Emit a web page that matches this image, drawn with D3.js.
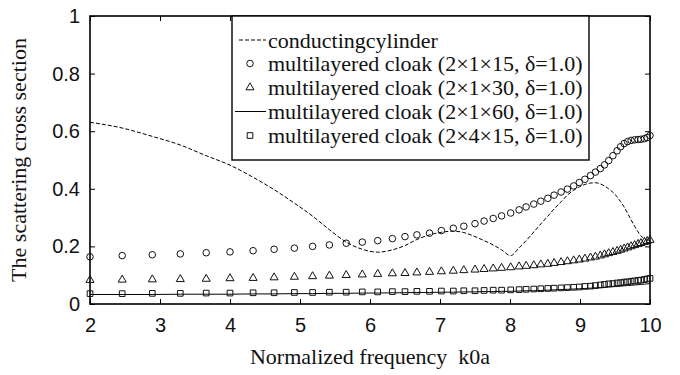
<!DOCTYPE html>
<html>
<head>
<meta charset="utf-8">
<script src="https://cdn.jsdelivr.net/npm/d3@7"></script>
<style>
  body { margin: 0; background: #fff; }
  svg { display: block; }
</style>
</head>
<body>
<svg id="chart" width="680" height="375"></svg>
<script>
// sample points (normalized frequency k0a), shared by all curves
var k0a = [2.00, 2.46, 2.89, 3.29, 3.66, 4.00, 4.33, 4.63, 4.92, 5.18, 5.42, 5.66, 5.89, 6.11, 6.32, 6.50, 6.67, 6.85,
           7.02, 7.19, 7.34, 7.50, 7.63, 7.76, 7.88, 8.01, 8.13, 8.23, 8.34, 8.44, 8.54, 8.63, 8.73, 8.82, 8.91, 8.99,
           9.07, 9.15, 9.22, 9.29, 9.35, 9.41, 9.47, 9.53, 9.58, 9.63, 9.68, 9.73, 9.78, 9.83, 9.87, 9.92, 9.96, 10.00];

var cylinder = [0.631, 0.611, 0.582, 0.552, 0.515, 0.482, 0.440, 0.397, 0.350, 0.305, 0.258, 0.215, 0.190, 0.180, 0.188, 0.203, 0.224, 0.240,
                0.249, 0.253, 0.248, 0.234, 0.220, 0.205, 0.188, 0.168, 0.195, 0.220, 0.250, 0.278, 0.305, 0.330, 0.355, 0.378, 0.395, 0.407,
                0.415, 0.420, 0.421, 0.417, 0.410, 0.400, 0.388, 0.372, 0.355, 0.337, 0.315, 0.292, 0.270, 0.250, 0.237, 0.226, 0.222, 0.220];

var cloak15 = [0.164, 0.168, 0.171, 0.174, 0.178, 0.181, 0.185, 0.190, 0.194, 0.200, 0.205, 0.211, 0.215, 0.220, 0.227, 0.234, 0.240, 0.246,
               0.255, 0.263, 0.270, 0.279, 0.288, 0.297, 0.306, 0.316, 0.327, 0.337, 0.347, 0.357, 0.367, 0.378, 0.389, 0.399, 0.410, 0.422,
               0.433, 0.446, 0.458, 0.470, 0.483, 0.498, 0.515, 0.532, 0.546, 0.557, 0.564, 0.568, 0.570, 0.571, 0.572, 0.574, 0.578, 0.585];

var cloak30 = [0.083, 0.084, 0.085, 0.086, 0.087, 0.089, 0.090, 0.092, 0.094, 0.096, 0.098, 0.100, 0.102, 0.104, 0.106, 0.107, 0.109, 0.111,
               0.113, 0.115, 0.117, 0.119, 0.121, 0.123, 0.125, 0.127, 0.130, 0.132, 0.134, 0.137, 0.139, 0.142, 0.145, 0.148, 0.151, 0.154,
               0.157, 0.161, 0.164, 0.168, 0.172, 0.176, 0.180, 0.184, 0.188, 0.192, 0.196, 0.200, 0.204, 0.208, 0.211, 0.215, 0.218, 0.222];

var cloak60 = [0.033, 0.033, 0.033, 0.034, 0.034, 0.034, 0.035, 0.035, 0.036, 0.036, 0.037, 0.037, 0.038, 0.038, 0.039, 0.039, 0.040, 0.040,
               0.041, 0.041, 0.042, 0.042, 0.043, 0.043, 0.044, 0.044, 0.045, 0.046, 0.046, 0.047, 0.048, 0.049, 0.050, 0.051, 0.052, 0.053,
               0.054, 0.055, 0.056, 0.057, 0.058, 0.059, 0.060, 0.061, 0.062, 0.063, 0.064, 0.065, 0.066, 0.067, 0.068, 0.069, 0.070, 0.071];

var cloak4x15 = [0.036, 0.036, 0.037, 0.037, 0.038, 0.038, 0.039, 0.039, 0.040, 0.040, 0.041, 0.041, 0.042, 0.042, 0.043, 0.043, 0.044, 0.044,
                 0.045, 0.045, 0.046, 0.046, 0.047, 0.048, 0.048, 0.049, 0.050, 0.051, 0.052, 0.053, 0.054, 0.055, 0.056, 0.057, 0.058, 0.059,
                 0.061, 0.062, 0.064, 0.066, 0.068, 0.070, 0.071, 0.073, 0.074, 0.076, 0.077, 0.079, 0.080, 0.082, 0.083, 0.085, 0.087, 0.089];

var xTicks = [2, 3, 4, 5, 6, 7, 8, 9, 10];
var yTicks = [0, 0.2, 0.4, 0.6, 0.8, 1];

var legendLabels = ["conductingcylinder",
                    "multilayered cloak (2\u00d71\u00d715, \u03b4=1.0)",
                    "multilayered cloak (2\u00d71\u00d730, \u03b4=1.0)",
                    "multilayered cloak (2\u00d71\u00d760, \u03b4=1.0)",
                    "multilayered cloak (2\u00d74\u00d715, \u03b4=1.0)"];

var serif = "'Liberation Serif', 'Times New Roman', serif";
var sans = "'Liberation Sans', Arial, Helvetica, sans-serif";

// plot box (note: "top" is taken by window.top, so use other names)
var pLeft = 90, pRight = 650, pTop = 16, pBottom = 304;

var svg = d3.select('#chart');

var x = d3.scaleLinear().domain([2, 10]).range([pLeft, pRight]);
var y = d3.scaleLinear().domain([0, 1]).range([pBottom, pTop]);

// axes, ticks pointing inward like matlab
svg.append("g")
  .attr("transform", "translate(0," + pBottom + ")")
  .call(d3.axisBottom(x).tickValues(xTicks).tickSizeInner(-5).tickSizeOuter(0).tickPadding(14).tickFormat(d3.format("d")))
  .attr("font-size", 20)
  .attr("font-family", sans)
  .call(g => g.select(".domain").remove());

svg.append("g")
  .attr("transform", "translate(0," + pTop + ")")
  .call(d3.axisTop(x).tickValues(xTicks).tickSizeInner(-5).tickSizeOuter(0).tickFormat(""))
  .call(g => g.select(".domain").remove());

svg.append("g")
  .attr("transform", "translate(" + pLeft + ",0)")
  .call(d3.axisLeft(y).tickValues(yTicks).tickSizeInner(-5).tickSizeOuter(0).tickPadding(10).tickFormat(d => d))
  .attr("font-size", 20)
  .attr("font-family", sans)
  .call(g => g.select(".domain").remove());

svg.append("g")
  .attr("transform", "translate(" + pRight + ",0)")
  .call(d3.axisRight(y).tickValues(yTicks).tickSizeInner(-5).tickSizeOuter(0).tickFormat(""))
  .call(g => g.select(".domain").remove());

svg.selectAll(".tick line").attr("stroke", "#000");
svg.selectAll(".tick text").attr("fill", "#111");

svg.append("rect")
  .attr("x", pLeft).attr("y", pTop)
  .attr("width", pRight - pLeft).attr("height", pBottom - pTop)
  .attr("fill", "none").attr("stroke", "#000").attr("stroke-width", 1.6);

// axis titles
svg.append("text")
  .attr("text-anchor", "middle")
  .attr("x", (pLeft + pRight) / 2)
  .attr("y", 364)
  .attr("font-family", serif)
  .attr("font-size", "22px")
  .attr("fill", "#111")
  .attr("xml:space", "preserve")
  .text("Normalized frequency  k0a");

svg.append("text")
  .attr("text-anchor", "middle")
  .attr("transform", "translate(26," + (pTop + pBottom) / 2 + ") rotate(-90)")
  .attr("font-family", serif)
  .attr("font-size", "22px")
  .attr("fill", "#111")
  .text("The scattering cross section");

var pts = function(vals) { return k0a.map((k, i) => [k, vals[i]]); };

var line = d3.line().x(d => x(d[0])).y(d => y(d[1]));

svg.append("path")
  .datum(pts(cylinder))
  .attr("d", line.curve(d3.curveMonotoneX))
  .attr("fill", "none").attr("stroke", "#000").attr("stroke-width", 1)
  .attr("stroke-dasharray", "4,2");

svg.append("path")
  .datum(pts(cloak60))
  .attr("d", line.curve(d3.curveLinear))
  .attr("fill", "none").attr("stroke", "#000").attr("stroke-width", 1);

var sym = {
  circle: d3.symbol().type(d3.symbolCircle).size(34),
  triangle: d3.symbol().type(d3.symbolTriangle).size(28),
  square: d3.symbol().type(d3.symbolSquare).size(32)
};

function markers(vals, shape) {
  svg.append("g").selectAll("path")
    .data(pts(vals))
    .join("path")
    .attr("transform", d => "translate(" + x(d[0]) + "," + y(d[1]) + ")")
    .attr("d", sym[shape])
    .attr("fill", "none")
    .attr("stroke", "#111")
    .attr("stroke-width", 1);
}

markers(cloak15, "circle");
markers(cloak30, "triangle");
markers(cloak4x15, "square");

// legend
var lg = svg.append("g");
lg.append("rect")
  .attr("x", 232).attr("y", pTop)
  .attr("width", 357).attr("height", 144)
  .attr("fill", "#fff").attr("stroke", "#000").attr("stroke-width", 1.4);

var rowY = [40, 63.5, 87.5, 111.5, 135.5];

legendLabels.forEach(function(lab, i) {
  lg.append("text")
    .attr("x", 268)
    .attr("y", rowY[i])
    .attr("dominant-baseline", "central")
    .attr("font-family", serif)
    .attr("font-size", "22px")
    .attr("fill", "#111")
    .text(lab);
});

lg.append("line")
  .attr("x1", 239).attr("x2", 266).attr("y1", rowY[0]).attr("y2", rowY[0])
  .attr("stroke", "#000").attr("stroke-dasharray", "4,2");
lg.append("line")
  .attr("x1", 235).attr("x2", 266).attr("y1", rowY[3]).attr("y2", rowY[3])
  .attr("stroke", "#000");

[[1, "circle"], [2, "triangle"], [4, "square"]].forEach(function(m) {
  lg.append("path")
    .attr("transform", "translate(250," + rowY[m[0]] + ")")
    .attr("d", sym[m[1]])
    .attr("fill", "none").attr("stroke", "#111").attr("stroke-width", 1);
});
</script>
</body>
</html>
